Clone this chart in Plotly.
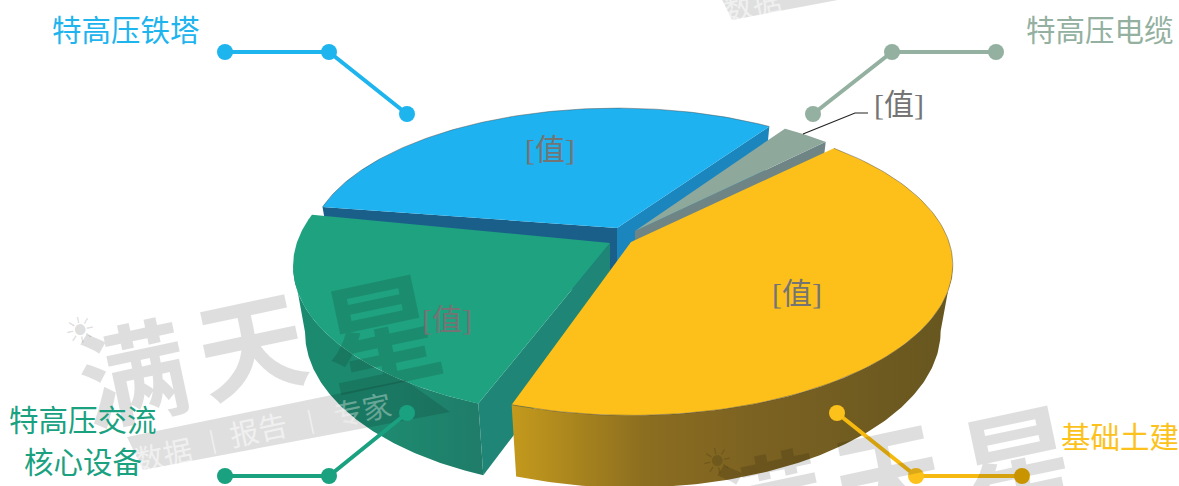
import numpy as np
import plotly.graph_objects as go

# ---- data ----
categories = ["特高压铁塔", "特高压电缆", "基础土建", "特高压交流核心设备"]
values = [32.0, 3.0, 42.7, 22.3]
value_labels = ["[值]", "[值]", "[值]", "[值]"]
start_angle = 171.0

# ---- style / layout ----
W, H = 1179, 486
top_colors = ["#1eb2f0", "#8fa89c", "#fdc01a", "#1fa27f"]
label_colors = ["#1eb4ee", "#93b0a0", "#fcc21b", "#1aa17f"]
apex = [(617, 228), (635, 231), (631, 242), (610, 243)]
scale_x = [0.96, 0.94, 1.0, 0.985]
scale_y = [0.96, 0.97, 1.02, 1.025]
nudge = [0.0, 0.0, 0.0, -2.4]
A, B, K = 318.0, 144.0, 0.153
A2, B2, DROP = 306.0, 150.0, 65.0
FONT = "Noto Sans CJK SC"
SERIF = "Liberation Serif, Noto Sans CJK SC"


def proj(theta_deg, i, lower=False):
    ap = apex[i]
    t = np.radians(theta_deg)
    u, v = np.cos(t), np.sin(t)
    w = 1 + K * v
    a, b, d = (A2, B2, DROP) if lower else (A, B, 0.0)
    return ap[0] + scale_x[i] * a * u / w, ap[1] + d - scale_y[i] * b * v / w


def poly(xs, ys, **kw):
    return go.Scatter(x=list(xs), y=list(ys), mode="lines", fill="toself",
                      line=dict(width=0), hoverinfo="skip", showlegend=False, **kw)


# slice angles from the values (clockwise)
total = sum(values)
ends = start_angle - np.cumsum(values) / total * 360
starts = np.r_[start_angle, ends[:-1]]
starts = starts + np.array(nudge)
ends = ends + np.array(nudge)
silhouette = np.degrees(np.arcsin(K))  # tangent point of the rim

fig = go.Figure()


def radial_face(i, theta, color):
    ap = apex[i]
    x0, y0 = proj(theta, i)
    x1, y1 = proj(theta, i, True)
    fig.add_trace(poly([ap[0], x0, x1, ap[0]], [ap[1], y0, y1, ap[1] + DROP], fillcolor=color))


def top_face(i, edge=True):
    th = np.linspace(starts[i], ends[i], 120)
    x, y = proj(th, i)
    fig.add_trace(poly(np.r_[apex[i][0], x], np.r_[apex[i][1], y], fillcolor=top_colors[i]))
    if edge:
        fig.add_trace(go.Scatter(x=x, y=y, mode="lines", hoverinfo="skip", showlegend=False,
                                 line=dict(width=1, color="rgba(70,70,70,0.45)")))


def outer_side(i, th0, th1, stops):
    th = np.linspace(th0, th1, 120)
    x, y = proj(th, i)
    xb, yb = proj(th[::-1], i, True)
    fig.add_trace(poly(np.r_[x, xb], np.r_[y, yb], fillgradient=dict(type="horizontal", colorscale=stops)))


# blue
radial_face(0, starts[0], "#1a5f8a")
radial_face(0, ends[0], "#1b86bd")
top_face(0)
# gray
radial_face(1, ends[1], "#6f8585")
top_face(1, edge=False)
# green
outer_side(3, starts[3], -180 + silhouette, [[0, "#1a8a6e"], [0.5, "#1e8a70"], [1, "#1f7c68"]])
radial_face(3, starts[3], "#1e8577")
top_face(3, edge=False)
# yellow
outer_side(2, -silhouette, ends[2], [[0, "#c49a1c"], [0.3, "#8c6e20"], [0.55, "#7c6222"], [1, "#66561f"]])
top_face(2)

# ---- watermark band (repeats of one mark) ----
band_x = [127, 405, 450, 143]
band_y = [437, 380, 412, 470]
for dx, dy in [(0, 0), (589, -450)]:
    fig.add_trace(poly([v + dx for v in band_x], [v + dy for v in band_y],
                       fillcolor="rgba(0,0,0,0.125)"))

# ---- callouts ----
callouts = [
    ([225, 329, 407], [52, 52, 114], label_colors[0], [label_colors[0]] * 3),
    ([813, 892, 996], [114, 52, 52], label_colors[1], [label_colors[1]] * 3),
    ([225, 329, 407], [476, 476, 413], label_colors[3], [label_colors[3]] * 3),
    ([837, 916, 1022], [413, 476, 476], "#f5b90f", ["#fcc21b", "#fcc21b", "#e6ab00"]),
]
for cx, cy, lc, mc in callouts:
    fig.add_trace(go.Scatter(x=cx, y=cy, mode="lines+markers", hoverinfo="skip", showlegend=False,
                             line=dict(color=lc, width=4), marker=dict(color=mc, size=16)))
fig.add_trace(go.Scatter(x=[803, 855, 868], y=[134, 113, 113], mode="lines", hoverinfo="skip",
                         showlegend=False, line=dict(color="#222222", width=1.2)))

# ---- text ----
ann = []


def text(x, y, s, size, color, family=FONT, angle=0):
    # an anchor outside the axis range would hide the text, so shift from the edge
    shift = 0
    if y > H:
        shift = -(y - H)
        y = H
    ann.append(dict(x=x, y=y, xref="x", yref="y", text=s, showarrow=False, textangle=angle,
                    font=dict(size=size, color=color, family=family), yshift=shift,
                    xanchor="center", yanchor="middle"))


wm = "rgba(0,0,0,0.13)"
for dx, dy in [(0, 0), (637, 131)]:
    text(80 + dx, 330 + dy, "☀", 36, wm, "DejaVu Sans", -12)
    text(132 + dx, 368 + dy, "<b>满</b>", 108, wm, FONT, -12)
    text(250 + dx, 340 + dy, "<b>天</b>", 108, wm, FONT, -12)
    text(380 + dx, 326 + dy, "<b>星</b>", 118, wm, FONT, -12)
for dx, dy in [(0, 0), (589, -450)]:
    text(163 + dx, 453 + dy, "数据", 29, "rgba(255,255,255,0.55)", FONT, -12)
    text(212 + dx, 438 + dy, "|", 22, "rgba(255,255,255,0.55)", FONT, -12)
    text(258 + dx, 428 + dy, "报告", 29, "rgba(255,255,255,0.55)", FONT, -12)
    text(310 + dx, 418 + dy, "|", 22, "rgba(255,255,255,0.55)", FONT, -12)
    text(362 + dx, 408 + dy, "专家", 29, "rgba(255,255,255,0.35)", FONT, -12)

text(126, 28, categories[0], 29.5, label_colors[0])
text(1100, 28, categories[1], 29.5, label_colors[1])
text(1120, 435, categories[2], 29.5, label_colors[2])
text(83, 418, categories[3][:5], 29.5, label_colors[3])
text(83, 460, categories[3][5:], 29.5, label_colors[3])

for (x, y), s in zip([(550, 149), (899, 104), (797, 293), (447, 319)], value_labels):
    text(x, y, s, 30, "#747474", SERIF)

fig.update_layout(
    width=W, height=H, margin=dict(l=0, r=0, t=0, b=0),
    paper_bgcolor="white", plot_bgcolor="white", showlegend=False,
    xaxis=dict(range=[0, W], visible=False, fixedrange=True),
    yaxis=dict(range=[H, 0], visible=False, fixedrange=True),
    annotations=ann,
)
fig.write_html("out.html", config=dict(displayModeBar=False),
               post_script="document.body.style.margin='0';document.body.style.overflow='hidden';")
